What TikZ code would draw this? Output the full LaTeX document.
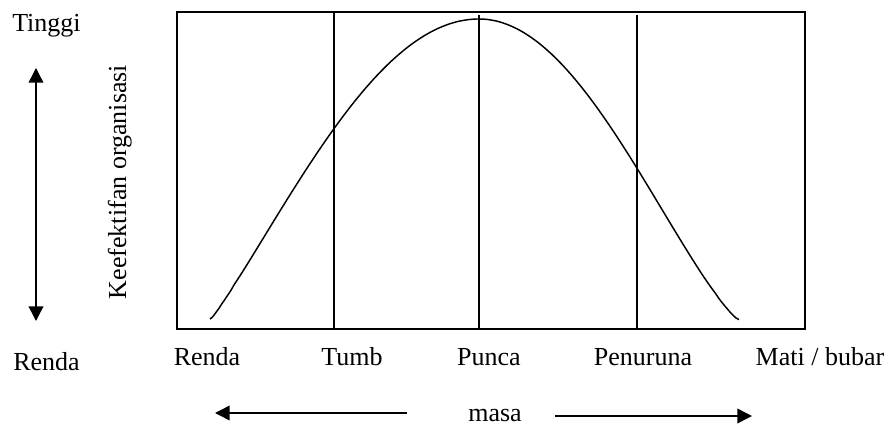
\documentclass[tikz,border=0pt]{standalone}
\usepackage{fontspec}
\setmainfont{Liberation Serif}
\usetikzlibrary{arrows.meta}
\begin{document}
\begin{tikzpicture}[x=0.75pt,y=-0.75pt,
  lbl/.style={inner sep=0pt,font=\fontsize{19.5}{23}\selectfont},
  frame/.style={line width=1.1pt},
  divider/.style={line width=1.1pt},
  curve/.style={line width=1.1pt,line join=round},
  arr/.style={line width=1.1pt,-{Triangle[length=11pt,width=11pt]}},
  darr/.style={line width=1.1pt,{Triangle[length=11pt,width=11pt]}-{Triangle[length=11pt,width=11pt]}}]
\useasboundingbox (0,0) rectangle (890,425);
% frame
\draw[frame] (177,12) rectangle (805,329);
% dividers
\coordinate (d1t) at (334,12);  \coordinate (d1b) at (334,329);
\coordinate (d2t) at (479,15);  \coordinate (d2b) at (479,329);
\coordinate (d3t) at (637,15);  \coordinate (d3b) at (637,329);
\draw[divider] (d1t) -- (d1b);
\draw[divider] (d2t) -- (d2b);
\draw[divider] (d3t) -- (d3b);
% curve
\draw[curve] plot[domain=210:479,samples=90] (\x,{320-301*exp(1.1*ln(max(cos((479-\x)/269*90),0.005)))})
  -- plot[domain=479:739,samples=90] (\x,{320-301*exp(1.25*ln(max(cos((\x-479)/260*90),0.005)))});
% left labels
\node[lbl,anchor=base west] (tinggi) at (12,31) {Tinggi};
\node[lbl,anchor=base west] (rendaL) at (13,370) {Renda};
\coordinate (vtop) at (36,68);
\coordinate (vbot) at (36,321);
\draw[darr] (vtop) -- (vbot);
\node[lbl,rotate=90,anchor=base] (yl) at (126,182) {Keefektifan organisasi};
% bottom labels
\node[lbl,anchor=base] (s1) at (207,365) {Renda};
\node[lbl,anchor=base] (s2) at (352,365) {Tumb};
\node[lbl,anchor=base] (s3) at (489,365) {Punca};
\node[lbl,anchor=base] (s4) at (643,365) {Penuruna};
\node[lbl,anchor=base] (s5) at (820,365) {Mati / bubar};
% time axis
\node[lbl,anchor=base] (masa) at (495,421) {masa};
\coordinate (la) at (407,413); \coordinate (lt) at (215,413);
\coordinate (ra) at (555,416); \coordinate (rt) at (752,416);
\draw[arr] (la) -- (lt);
\draw[arr] (ra) -- (rt);
\end{tikzpicture}
\end{document}
